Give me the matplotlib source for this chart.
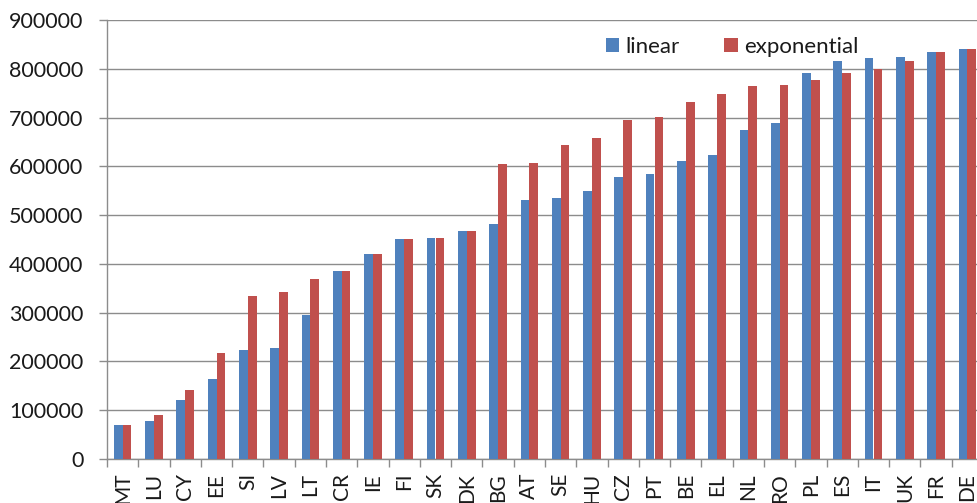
import matplotlib
matplotlib.use("Agg")
import matplotlib.pyplot as plt
import numpy as np

plt.rcParams["font.family"] = ["Lato", "DejaVu Sans"]

countries = ["MT", "LU", "CY", "EE", "SI", "LV", "LT", "CR", "IE", "FI",
             "SK", "DK", "BG", "AT", "SE", "HU", "CZ", "PT", "BE", "EL",
             "NL", "RO", "PL", "ES", "IT", "UK", "FR", "DE"]
linear = [70000, 77000, 121000, 163000, 223000, 227000, 295000, 385000,
          420000, 452000, 454000, 468000, 482000, 530000, 535000, 550000,
          579000, 584000, 611000, 623000, 674000, 688000, 792000, 815000,
          822000, 824000, 834000, 840000]
exponential = [70000, 91000, 142000, 218000, 334000, 343000, 369000, 385000,
               420000, 452000, 454000, 468000, 605000, 607000, 644000, 658000,
               695000, 702000, 732000, 748000, 765000, 767000, 776000, 791000,
               800000, 815000, 834000, 840000]
yticks = list(range(0, 900001, 100000))

blue = "#4F81BD"
red = "#C0504D"
grid_color = "#8c8c8c"
text_color = "#1a1a1a"

fig = plt.figure(figsize=(9.77, 5.03), dpi=100)
ax = fig.add_axes([107 / 977, 44 / 503, 876 / 977, 439 / 503])

x = np.arange(len(countries))
w = 0.28
ax.bar(x - w / 2, linear, w, color=blue, label="linear", zorder=3)
ax.bar(x + w / 2, exponential, w, color=red, label="exponential", zorder=3)

ax.set_xlim(-0.5, len(countries) - 0.5)
ax.set_ylim(0, 900000)
ax.set_yticks(yticks)
ax.set_yticklabels([str(v) for v in yticks])
ax.yaxis.grid(True, color=grid_color, linewidth=1.0, zorder=0)

# category boundaries carry the tick marks, labels sit at the centres
ax.set_xticks(np.arange(-0.5, len(countries), 1.0))
ax.set_xticklabels([])
ax.set_xticks(x, minor=True)
ax.set_xticklabels(countries, minor=True, rotation=90, va="top")
ax.tick_params(axis="x", which="major", length=6, width=1, color=grid_color,
               direction="out")
ax.tick_params(axis="x", which="minor", length=0, pad=10,
               labelsize=15, labelcolor=text_color)
ax.tick_params(axis="y", length=6, width=1, color=grid_color, pad=11,
               labelsize=15.5, labelcolor=text_color)

for side in ["top", "right"]:
    ax.spines[side].set_visible(False)
for side in ["left", "bottom"]:
    ax.spines[side].set_color(grid_color)
    ax.spines[side].set_linewidth(1.0)

ax.legend(loc="center left", bbox_to_anchor=(588 / 977, 1 - 47 / 503),
          bbox_transform=fig.transFigure, ncol=2, frameon=False,
          fontsize=16, handlelength=0.6, handleheight=0.6,
          handletextpad=0.3, columnspacing=2.0, borderpad=0.3,
          labelcolor=text_color)

fig.savefig("out.png", dpi=100)
